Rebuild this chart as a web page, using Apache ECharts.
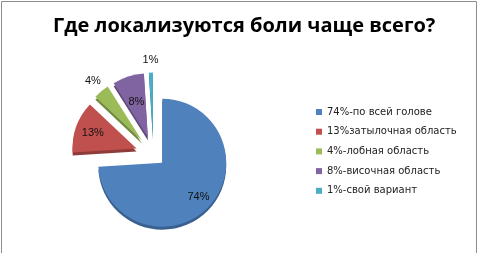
<!DOCTYPE html>
<html>
<head>
<meta charset="utf-8">
<script src="https://cdn.jsdelivr.net/npm/echarts@6/dist/echarts.min.js"></script>
<style>
  html, body { margin: 0; padding: 0; background: #fff; }
  #main { width: 478px; height: 253px; }
</style>
</head>
<body>
<div id="main"></div>
<script>
// данные диаграммы
var categories = ['74%-по всей голове', '13%затылочная область', '4%-лобная область', '8%-височная область', '1%-свой вариант'];
var values = [74, 13, 4, 8, 1];
var colors = ['#4F81BD', '#C0504D', '#9BBB59', '#8064A2', '#4BACC6'];
var shades = ['#3A6090', '#8E3B39', '#728A42', '#5E4A78', '#378093'];

var center = [153.5, 154.5];
var radius = 64;

// сектора рисуются в одной серии, подписи — в отдельной прозрачной
function buildData(show, labels, forLabels) {
    return categories.map(function (name, i) {
        var on = show.indexOf(i) >= 0;
        var style;
        if (forLabels) {
            style = { color: 'rgba(0,0,0,0)' };
        } else {
            style = {
                color: colors[i],
                opacity: on ? 1 : 0,
                shadowColor: shades[i],
                shadowOffsetY: 3,
                shadowBlur: 0
            };
        }
        return {
            name: name,
            value: values[i],
            selected: on,
            itemStyle: style,
            label: { show: forLabels && labels.indexOf(i) >= 0 }
        };
    });
}

function pieSeries(show, offset, labels, rad) {
    var forLabels = !!labels;
    return {
        type: 'pie',
        center: center,
        radius: rad || [0, radius],
        startAngle: 90,
        selectedMode: 'multiple',
        selectedOffset: offset,
        avoidLabelOverlap: false,
        silent: true,
        animation: false,
        emphasis: { disabled: true },
        label: {
            position: 'inside',
            formatter: function (p) { return p.value + '%'; },
            fontFamily: 'Liberation Sans',
            fontSize: 11,
            color: '#111'
        },
        labelLine: { show: false },
        data: buildData(show, labels || [], forLabels)
    };
}

var myChart = echarts.init(document.getElementById('main'));

var option = {
    animation: false,
    title: {
        text: 'Где локализуются боли чаще всего?',
        left: 48,
        top: 11,
        textStyle: {
            fontFamily: 'Open Sans',
            fontWeight: 'bold',
            fontSize: 20,
            color: '#000'
        }
    },
    legend: {
        orient: 'vertical',
        left: 311,
        top: 101,
        itemWidth: 6,
        itemHeight: 6,
        itemGap: 7.7,
        icon: 'rect',
        selectedMode: false,
        textStyle: { fontFamily: 'DejaVu Sans', fontSize: 10, lineHeight: 12, color: '#222' },
        data: categories.map(function (name, i) {
            return { name: name, itemStyle: { color: colors[i], opacity: 1 } };
        })
    },
    graphic: [{
        type: 'rect',
        shape: { x: 1.5, y: 1.5, width: 475, height: 252 },
        style: { fill: 'none', stroke: '#8c8c8c', lineWidth: 1 },
        silent: true
    }],
    series: [
        pieSeries([0], 12),
        pieSeries([1, 2, 3, 4], 18),
        pieSeries([0], 12, [0], [radius * 0.46, radius]),
        pieSeries([1, 2, 3, 4], 18, [1], [radius * 0.36, radius]),
        pieSeries([1, 2, 3, 4], 18, [3], [radius * 0.08, radius]),
        pieSeries([1, 2, 3, 4], 18, [2, 4], [radius + 2, radius + 18])
    ]
};

myChart.setOption(option);
</script>
</body>
</html>
